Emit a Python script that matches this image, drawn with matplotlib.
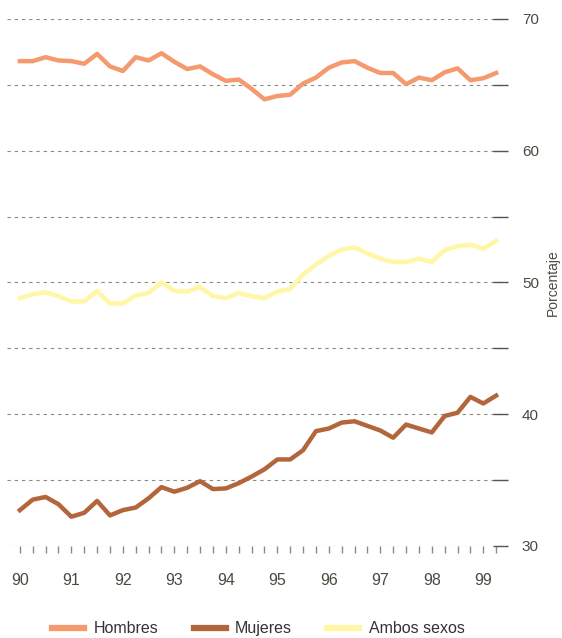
import numpy as np
import matplotlib
matplotlib.use("Agg")
import matplotlib.pyplot as plt
from matplotlib.ticker import FixedLocator

plt.rcParams['font.family'] = ['Liberation Sans', 'DejaVu Sans']

# ------------------------------
# Data (quarterly, 1990 Q1 - 1999 Q2)
# ------------------------------
years = np.arange(38) * 0.25 + 1990

hombres = [66.8, 66.8, 67.1, 66.85, 66.8, 66.6, 67.35, 66.4, 66.05, 67.1,
           66.85, 67.4, 66.75, 66.2, 66.4, 65.8, 65.3, 65.4, 64.7, 63.9,
           64.15, 64.25, 65.1, 65.55, 66.3, 66.7, 66.8, 66.3, 65.9, 65.9,
           65.05, 65.55, 65.35, 65.95, 66.25, 65.35, 65.5, 65.9]

mujeres = [32.7, 33.5, 33.7, 33.15, 32.2, 32.5, 33.4, 32.3, 32.7, 32.9,
           33.6, 34.45, 34.1, 34.4, 34.9, 34.3, 34.35, 34.75, 35.25, 35.8,
           36.55, 36.55, 37.25, 38.7, 38.9, 39.35, 39.45, 39.1, 38.75, 38.2,
           39.2, 38.9, 38.6, 39.85, 40.1, 41.3, 40.8, 41.4]

ambos = [48.8, 49.1, 49.25, 48.95, 48.55, 48.55, 49.35, 48.4, 48.4, 49.0,
         49.2, 50.0, 49.35, 49.3, 49.65, 48.95, 48.8, 49.2, 48.95, 48.8,
         49.3, 49.5, 50.6, 51.35, 52.0, 52.5, 52.65, 52.2, 51.8, 51.55,
         51.55, 51.8, 51.55, 52.45, 52.75, 52.85, 52.55, 53.15]

year_labels = ['90', '91', '92', '93', '94', '95', '96', '97', '98', '99']

# colours
C_HOM = "#F59A6E"
C_MUJ = "#B3653C"
C_AMB = "#FFF6A6"
C_GRID = "#8a8a80"
C_TXT = "#4a4a40"

fig = plt.figure(figsize=(5.62, 6.38), dpi=100)
ax = fig.add_axes([7/562, 1 - 545.7/638, (508-7)/562, (545.7-19)/638])

ax.plot(years, hombres, color=C_HOM, lw=3.2, solid_joinstyle='round', label="Hombres")
ax.plot(years, mujeres, color=C_MUJ, lw=3.2, solid_joinstyle='round', label="Mujeres")
ax.plot(years, ambos, color=C_AMB, lw=3.2, solid_joinstyle='round', label="Ambos sexos")

ax.set_xlim(1989.75, 1999.48)
ax.set_ylim(30, 70)

for s in ax.spines.values():
    s.set_visible(False)

# dashed grid every 5
for v in range(30, 71, 5):
    ax.axhline(v, color=C_GRID, lw=0.8, ls=(0, (3, 3.5)), zorder=0)

ax.yaxis.tick_right()
ax.yaxis.set_label_position("right")
ax.yaxis.set_major_locator(FixedLocator(range(30, 71, 5)))
ax.set_yticklabels(['30', '', '40', '', '50', '', '60', '', '70'])
ax.tick_params(axis='y', direction='in', length=11, width=1.0, color="#555",
               pad=10, labelsize=11, labelcolor=C_TXT)
ax.set_ylabel("Porcentaje", fontsize=10, color=C_TXT, labelpad=5)

# quarterly ticks hanging from the 30 line
ax.xaxis.set_major_locator(FixedLocator(np.arange(1990, 2000)))
ax.xaxis.set_minor_locator(FixedLocator(years))
ax.set_xticklabels(year_labels)
ax.tick_params(axis='x', which='both', direction='out', length=5, width=1.0,
               color="#8a8a80", pad=15, labelsize=11.5, labelcolor=C_TXT)

fig.legend(loc='lower center', bbox_to_anchor=(0.46, -0.02), ncol=3, frameon=False,
           fontsize=11.5, handlelength=2.0, handletextpad=0.6, columnspacing=2.2,
           labelcolor="#333")
for h in fig.legends[0].get_lines():
    h.set_linewidth(4.5)

fig.savefig("out.png", dpi=100)
